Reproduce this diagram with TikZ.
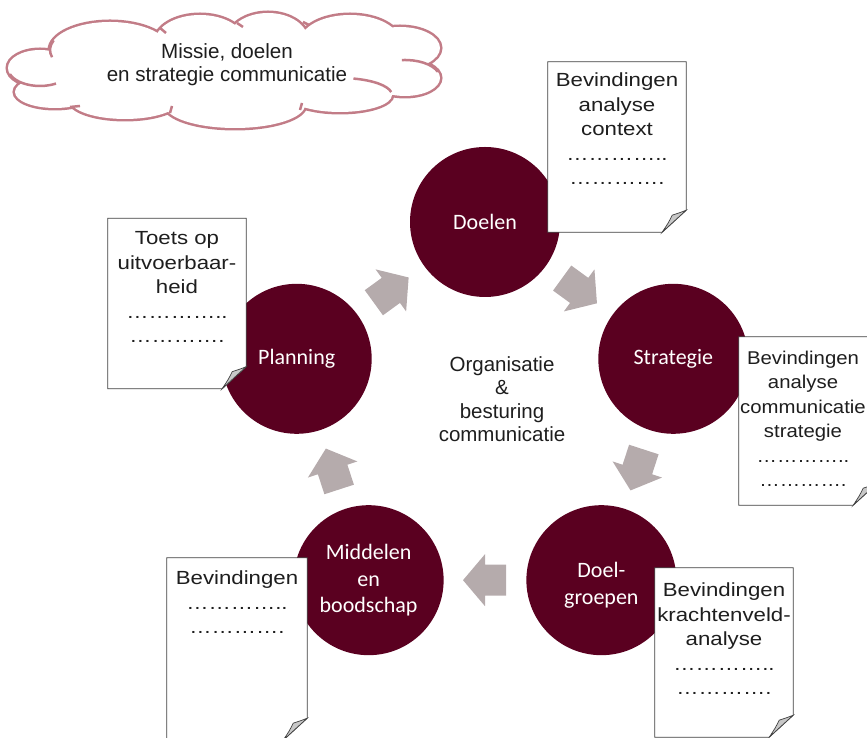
\documentclass[tikz,border=0pt]{standalone}
\usepackage{fontspec}
\setmainfont{Liberation Sans}
\newfontfamily\circlefont{Carlito}
\newfontfamily\docfont[FakeStretch=1.17]{Liberation Sans}
\newfontfamily\narrowdocfont[FakeStretch=1.1]{Liberation Sans}
\usetikzlibrary{calc}

\definecolor{wine}{RGB}{90,0,32}
\definecolor{arrowgrey}{RGB}{181,171,172}
\definecolor{cloudrose}{RGB}{194,124,135}
\definecolor{pageline}{RGB}{64,64,64}
\definecolor{foldgrey}{RGB}{200,200,200}
\definecolor{inkgrey}{RGB}{30,30,30}

% outline of a sheet with a curled bottom-right corner, drawn around a named node
\newcommand\curledsheet[1]{%
  \filldraw[fill=white, draw=pageline, line width=0.8pt]
    (#1.north west) -- (#1.north east) -- ([yshift=22pt]#1.south east)
    -- ([xshift=-24pt]#1.south east) -- (#1.south west) -- cycle;
  \filldraw[fill=foldgrey, draw=pageline, line width=0.7pt]
    ([yshift=22pt]#1.south east)
    .. controls ([xshift=-5pt,yshift=20pt]#1.south east) .. ([xshift=-14pt,yshift=17pt]#1.south east)
    .. controls ([xshift=-18pt,yshift=9pt]#1.south east) .. ([xshift=-24pt]#1.south east)
    -- cycle;
}

% lobes of the mission cloud
\newcommand\cloudlobes{%
  (40,670) ellipse [x radius=32, y radius=18]
  (55,646) ellipse [x radius=40, y radius=16]
  (125,638) ellipse [x radius=55, y radius=19]
  (235,633) ellipse [x radius=70, y radius=23]
  (340,643) ellipse [x radius=52, y radius=17]
  (405,660) ellipse [x radius=35, y radius=18]
  (400,690) ellipse [x radius=40, y radius=21]
  (350,696) ellipse [x radius=50, y radius=27]
  (268,698) ellipse [x radius=40, y radius=27]
  (200,696) ellipse [x radius=45, y radius=27]
  (110,688) ellipse [x radius=60, y radius=28]}

\begin{document}
\begin{tikzpicture}[x=1pt,y=1pt,
  stage/.style={circle, fill=wine, minimum size=150pt, inner sep=0pt,
    text=white, align=center, font=\circlefont\fontsize{22}{26.5}\selectfont},
  stagelabel/.style={inner sep=0pt, text=white, align=center,
    font=\circlefont\fontsize{22}{27}\selectfont},
  pagebox/.style={rectangle, inner sep=0pt, minimum width=138pt},
  pagetext/.style={anchor=north, inner sep=0pt, align=center, text=inkgrey,
    font=\docfont\fontsize{19}{24.5}\selectfont},
  plaintext/.style={anchor=north, inner sep=0pt, align=center, text=inkgrey},
  cloudhook/.style={draw=cloudrose, line width=2.5pt},
  blockarrow/.pic={\fill[arrowgrey] (-21,-15.5) -- (0,-15.5) -- (0,-26) -- (22,0)
    -- (0,26) -- (0,15.5) -- (-21,15.5) -- cycle;}
]
\useasboundingbox (0,0) rectangle (867,738);
\clip (0,0) rectangle (867,738);

% mission cloud: stroked lobes, then their white interiors on top
\draw[cloudrose, line width=5pt] \cloudlobes;
\fill[white] \cloudlobes;
\fill[white] (225,668) ellipse [x radius=175, y radius=30];
% lobe arcs running on past their junctions
\draw[cloudhook] (40,670) ++(200:32 and 18) arc[start angle=200, end angle=300, x radius=32, y radius=18];
\draw[cloudhook] (110,688) ++(160:60 and 28) arc[start angle=160, end angle=195, x radius=60, y radius=28];
\draw[cloudhook] (340,643) ++(75:52 and 17) arc[start angle=75, end angle=10, x radius=52, y radius=17];
\draw[cloudhook] (405,660) ++(20:35 and 18) arc[start angle=20, end angle=95, x radius=35, y radius=18];
\draw[cloudhook] (160,710) .. controls (163,708) .. (166,705);
\draw[cloudhook] (237,715) .. controls (240,713) .. (243,711);
\draw[cloudhook] (303,716) .. controls (306,714) .. (309,713);
\draw[cloudhook] (300,628) .. controls (301,631) .. (302,635);
\draw[cloudhook] (170,625) .. controls (171,628) .. (172,632);
\draw[cloudhook] (70,631) .. controls (75,632) .. (80,632);
\node[plaintext, font=\fontsize{20.6}{23}\selectfont] (missiontext) at (227,695)
  {Missie, doelen\\en strategie communicatie};

% cycle of stages around a common centre
\coordinate (hub) at (485,318);
\node[stage] (doelen)      at ($(hub)+(90:198)$)   {Doelen};
\node[stage] (strategie)   at ($(hub)+(18:198)$)   {Strategie};
\node[stage] (doelgroepen) at ($(hub)+(-54:198)$)  {};
\node[stagelabel] (doelgroepentext) at ([yshift=-5pt]doelgroepen.center) {Doel-\\groepen};
\node[stage] (middelen)    at ($(hub)+(-126:198)$) {Middelen\\en\\boodschap};
\node[stage] (planning)    at ($(hub)+(162:198)$)  {Planning};

% block arrows half way between neighbouring stages
\pic[rotate=-36]  at ($(doelen)!0.5!(strategie)$)     {blockarrow};
\pic[rotate=-108] at ($(strategie)!0.5!(doelgroepen)$) {blockarrow};
\pic[rotate=180]  at ($(doelgroepen)!0.5!(middelen)$)  {blockarrow};
\pic[rotate=108]  at ($(middelen)!0.5!(planning)$)     {blockarrow};
\pic[rotate=36]   at ($(planning)!0.5!(doelen)$)       {blockarrow};

\node[plaintext, font=\fontsize{20.5}{23.5}\selectfont] (core) at (502,382)
  {Organisatie\\\&\\besturing\\communicatie};

% finding sheets
\node[pagebox, minimum height=170pt] (sheetA) at (617,591) {};
\curledsheet{sheetA}
\node[pagetext] (textA) at ([yshift=-11pt]sheetA.north)
  {Bevindingen\\analyse\\context\\…………..\\………….};

\node[pagebox, minimum height=170pt] (sheetB) at (177,434.5) {};
\curledsheet{sheetB}
\node[pagetext] (textB) at ([yshift=-13pt]sheetB.north)
  {Toets op\\uitvoerbaar-\\heid\\…………..\\………….};

\node[pagebox, minimum height=168pt] (sheetC) at (808,317) {};
\curledsheet{sheetC}
\node[pagetext, font=\narrowdocfont\fontsize{18.5}{24.5}\selectfont] (textC)
  at ([xshift=-5pt,yshift=-14pt]sheetC.north)
  {Bevindingen\\analyse\\communicatie\\strategie\\…………..\\………….};

\node[pagebox, minimum width=140pt, minimum height=182pt] (sheetD) at (237,89) {};
\curledsheet{sheetD}
\node[pagetext] (textD) at ([yshift=-13pt]sheetD.north)
  {Bevindingen\\…………..\\………….};

\node[pagebox, minimum height=169pt] (sheetE) at (724,85.5) {};
\curledsheet{sheetE}
\node[pagetext] (textE) at ([yshift=-15pt]sheetE.north)
  {Bevindingen\\krachtenveld-\\analyse\\…………..\\………….};
\end{tikzpicture}
\end{document}
